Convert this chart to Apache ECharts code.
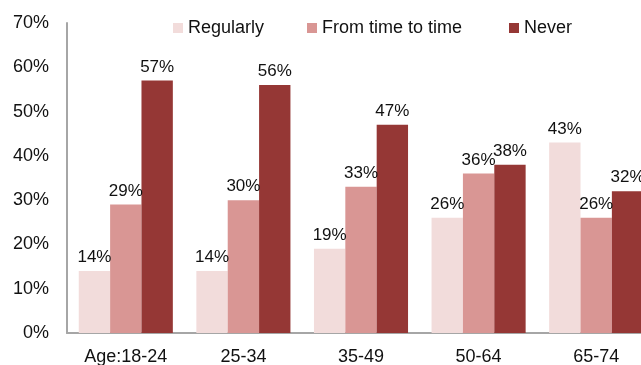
<!DOCTYPE html>
<html>
<head>
<meta charset="utf-8">
<script src="https://cdn.jsdelivr.net/npm/echarts@6/dist/echarts.min.js"></script>
<style>
  html, body { margin: 0; padding: 0; background: #ffffff; overflow: hidden; width: 641px; height: 365px; }
  #chart { width: 660px; height: 365px; }
</style>
</head>
<body>
<div id="chart"></div>
<script>
// Share of respondents by age band and frequency
const categories = ['Age:18-24', '25-34', '35-49', '50-64', '65-74'];
const regularly = [14, 14, 19, 26, 43];
const fromTimeToTime = [29, 30, 33, 36, 26];
const never = [57, 56, 47, 38, 32];
const seriesNames = ['Regularly', 'From time to time', 'Never'];
const seriesColors = ['#F2DCDB', '#D99694', '#953735'];
const yTicks = [0, 10, 20, 30, 40, 50, 60, 70];

const font = 'Liberation Sans, Arial, sans-serif';
const textColor = '#111111';
const legendLefts = [173, 307, 509];

const chart = echarts.init(document.getElementById('chart'), null, { renderer: 'canvas' });

function makeSeries(name, data, color) {
  return {
    name: name,
    type: 'bar',
    data: data,
    barGap: '0%',
    barCategoryGap: '20%',
    itemStyle: { color: color },
    label: {
      show: true,
      position: 'top',
      distance: 5,
      formatter: p => p.value + '%',
      color: textColor,
      fontFamily: font,
      fontSize: 17
    },
    emphasis: { disabled: true }
  };
}

// one legend entry per series so each key sits at its own offset
const legends = seriesNames.map((name, i) => ({
  data: [name],
  left: legendLefts[i],
  top: 19,
  padding: 0,
  itemWidth: 10,
  itemHeight: 10,
  icon: 'rect',
  textStyle: { color: textColor, fontFamily: font, fontSize: 18 }
}));

chart.setOption({
  animation: false,
  grid: { left: 67, right: 5, top: 23, bottom: 32, containLabel: false, outerBoundsMode: 'none' },
  legend: legends,
  xAxis: {
    type: 'category',
    data: categories,
    axisLine: { lineStyle: { color: '#A6A6A6', width: 2 } },
    axisTick: { show: false },
    axisLabel: { color: textColor, fontFamily: font, fontSize: 18, margin: 15 }
  },
  yAxis: {
    type: 'value',
    min: yTicks[0],
    max: yTicks[yTicks.length - 1],
    interval: 10,
    splitLine: { show: false },
    axisLine: { show: true, lineStyle: { color: '#A6A6A6', width: 2 } },
    axisTick: { show: false },
    axisLabel: { formatter: v => v + '%', color: textColor, fontFamily: font, fontSize: 18, margin: 18 }
  },
  series: [
    makeSeries(seriesNames[0], regularly, seriesColors[0]),
    makeSeries(seriesNames[1], fromTimeToTime, seriesColors[1]),
    makeSeries(seriesNames[2], never, seriesColors[2])
  ]
});
</script>
</body>
</html>
